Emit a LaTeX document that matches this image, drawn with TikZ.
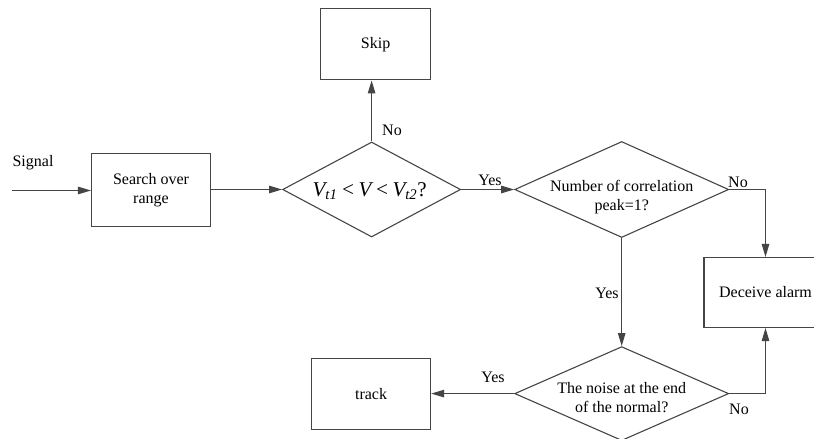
\documentclass[tikz,border=0pt]{standalone}
\usepackage{fontspec}
\setmainfont{Liberation Serif}
\usetikzlibrary{positioning,shapes.geometric,arrows.meta}

\definecolor{linegray}{HTML}{454545}

\tikzset{
  box/.style = {rectangle, draw=linegray, line width=1.1pt, fill=white,
                align=center, inner sep=0pt},
  decision/.style = {diamond, draw=linegray, line width=1.1pt, inner sep=0pt},
  flow/.style = {draw=linegray, line width=1.1pt, -{Triangle[length=13pt,width=7.5pt]}},
  lbl/.style = {inner sep=0pt},
}

\begin{document}
\begin{tikzpicture}[x=1pt, y=-1pt, font=\fontsize{16}{19}\selectfont]
  \clip (0,0) rectangle (814,439);

  \node[box, minimum width=119pt, minimum height=73pt] (search) at (151,190) {Search over\\range};
  \coordinate (in) at (12,190.5);
  \node[lbl] (sig) at (33,163) {Signal};

  \node[decision, minimum width=178pt, minimum height=95pt, right=71pt of search, yshift=0.5pt,
        label={[xshift=-2pt, yshift=-1.5pt, font=\fontsize{21}{23}\selectfont\itshape]center:V\textsubscript{t1}\,<\,V\,<\,V\textsubscript{t2}\upshape ?}] (range) {};
  \node[box, minimum width=110pt, minimum height=71pt, above=61pt of range, xshift=4pt] (skip) {Skip};

  \node[decision, minimum width=214pt, minimum height=96pt, right=53pt of range,
        label={[yshift=-8pt, align=center]center:Number of correlation\\peak=1?}] (peak) {};
  \node[decision, minimum width=214pt, minimum height=94pt, below=108pt of peak,
        label={[yshift=-4pt, align=center]center:The noise at the end\\of the normal?}] (noise) {};
  \node[box, minimum width=119pt, minimum height=71pt, left=83pt of noise] (track) {track};
  \node[box, minimum width=123pt, minimum height=70pt] (alarm) at (765.5,292.5) {Deceive alarm};

  % connectors
  \draw[flow] (in) -- (search.west |- in);
  \draw[flow] (search.east |- range.west) -- (range.west);
  \draw[flow] (range.north) -- (range.north |- skip.south);
  \draw[flow] (range.east) -- (peak.west);
  \draw[flow] (peak.east) -| (alarm.north);
  \draw[flow] (peak.south) -- (noise.north);
  \draw[flow] (noise.west) -- (track.east);
  \draw[flow] (noise.east) -| (alarm.south);

  % branch labels
  \node[lbl] (noskip) at (392,130) {No};
  \node[lbl] (yespeak) at (490,180) {Yes};
  \node[lbl] (noalarm) at (738,182) {No};
  \node[lbl] (yesnoise) at (607,293) {Yes};
  \node[lbl] (yestrack) at (493,377) {Yes};
  \node[lbl] (nonoise) at (739,409) {No};
\end{tikzpicture}
\end{document}
